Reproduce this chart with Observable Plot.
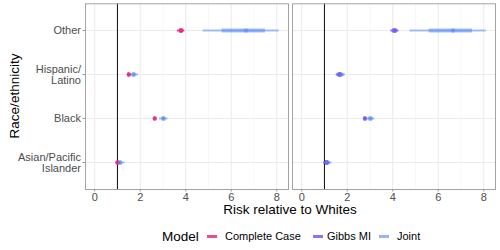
<!DOCTYPE html>
<html>
<head>
<meta charset="utf-8">
<script src="https://cdn.jsdelivr.net/npm/d3@7"></script>
<script src="https://cdn.jsdelivr.net/npm/@observablehq/plot@0.6"></script>
<style>
  html, body { margin: 0; padding: 0; background: #fff; }
  #wrap { width: 500px; font-family: "Liberation Sans", Arial, Helvetica, sans-serif; }
  #legend { position: relative; width: 500px; height: 28px; }
  #legend span { position: absolute; top: 50%; transform: translateY(-50%); white-space: nowrap; color: #000; }
  #legend .key { position: absolute; top: 50%; width: 10px; height: 3px; margin-top: -1.5px; }
</style>
</head>
<body>
<div id="wrap"><div id="chart"></div><div id="legend"></div></div>
<script>
// ---- data ----
const categories = ["Other", "Hispanic/\nLatino", "Black", "Asian/Pacific\nIslander"];
const models = ["Complete Case", "Gibbs MI", "Joint"];
const modelColors = ["#e7298a", "#7a5af8", "#4f86f7"];
const panels = ["Complete Case vs Joint", "Gibbs MI vs Joint"];
const panelModels = [["Complete Case", "Joint"], ["Gibbs MI", "Joint"]];
const xTicks = [0, 2, 4, 6, 8];
const xMinorTicks = [1, 3, 5, 7];
const refLine = [1];

// Complete Case
const ccEst  = [3.80, 1.50, 2.64, 1.01];
const ccLo95 = [3.64, 1.44, 2.60, 0.93];
const ccHi95 = [3.96, 1.58, 2.69, 1.08];
const ccLo50 = [3.72, 1.47, 2.62, 0.97];
const ccHi50 = [3.88, 1.53, 2.66, 1.04];
// Gibbs MI
const gbEst  = [4.09, 1.67, 2.78, 1.10];
const gbLo95 = [3.92, 1.52, 2.72, 0.97];
const gbHi95 = [4.27, 1.86, 2.85, 1.25];
const gbLo50 = [4.00, 1.60, 2.75, 1.04];
const gbHi50 = [4.18, 1.75, 2.81, 1.17];
// Joint
const jtEst  = [6.65, 1.72, 3.03, 1.12];
const jtLo95 = [4.76, 1.56, 2.85, 0.97];
const jtHi95 = [8.11, 1.92, 3.22, 1.33];
const jtLo50 = [5.60, 1.64, 2.95, 1.04];
const jtHi50 = [7.50, 1.80, 3.11, 1.20];

const series = {
  "Complete Case": [ccEst, ccLo95, ccHi95, ccLo50, ccHi50],
  "Gibbs MI": [gbEst, gbLo95, gbHi95, gbLo50, gbHi50],
  "Joint": [jtEst, jtLo95, jtHi95, jtLo50, jtHi50]
};

const rows = [];
panels.forEach((p, pi) => {
  panelModels[pi].forEach(m => {
    const [e, l95, h95, l50, h50] = series[m];
    categories.forEach((c, i) => {
      rows.push({panel: p, model: m, cat: c, est: e[i], lo95: l95[i], hi95: h95[i], lo50: l50[i], hi50: h50[i]});
    });
  });
});

const opacity = d => d.model === "Joint" ? 0.5 : 0.9;

const plot = Plot.plot({
  width: 500,
  height: 222,
  marginLeft: 85,
  marginRight: 4.5,
  marginTop: 3.3,
  marginBottom: 33,
  style: {fontFamily: "'Liberation Sans', Arial, Helvetica, sans-serif", fontSize: "11px", background: "#fff"},
  fx: {domain: panels, axis: null, paddingInner: 0.0193, paddingOuter: 0},
  x: {domain: [-0.405, 8.515]},
  y: {domain: categories, type: "point", padding: 0.6},
  color: {domain: models, range: modelColors},
  marks: [
    Plot.gridX(xMinorTicks, {stroke: "#f3f3f3", strokeOpacity: 1, strokeWidth: 0.6}),
    Plot.gridX(xTicks, {stroke: "#ebebeb", strokeOpacity: 1, strokeWidth: 1}),
    Plot.gridY(categories, {stroke: "#ebebeb", strokeOpacity: 1, strokeWidth: 1}),
    Plot.ruleX(refLine, {stroke: "#1a1a1a", strokeWidth: 1.1}),
    Plot.ruleY(rows, {fx: "panel", y: "cat", x1: "lo95", x2: "hi95", stroke: "model", strokeWidth: 2, strokeOpacity: opacity}),
    Plot.ruleY(rows, {fx: "panel", y: "cat", x1: "lo50", x2: "hi50", stroke: "model", strokeWidth: 4.2, strokeOpacity: opacity}),
    Plot.dot(rows, {fx: "panel", y: "cat", x: "est", fill: "model", r: 2.2, fillOpacity: opacity}),
    Plot.frame({stroke: "#a3a3a3", strokeWidth: 1}),
    Plot.axisX(xTicks, {tickSize: 2.5, tickPadding: 1.5, label: null, stroke: "#999", fill: "#4d4d4d", fontSize: 11}),
    Plot.axisY(categories, {tickSize: 2.5, tickPadding: 2, label: null, stroke: "#999", fill: "#4d4d4d", fontSize: 11})
  ]
});

document.getElementById("chart").appendChild(plot);

const svg = d3.select(plot);
svg.append("text")
  .attr("x", 290).attr("y", 214)
  .attr("text-anchor", "middle")
  .attr("fill", "#000")
  .style("font-size", "13.5px")
  .text("Risk relative to Whites");
svg.append("text")
  .attr("transform", "translate(14,96) rotate(-90)")
  .attr("text-anchor", "middle")
  .attr("dy", "0.35em")
  .attr("fill", "#000")
  .style("font-size", "13.5px")
  .text("Race/ethnicity");

// ---- legend ----
const legend = d3.select("#legend");
legend.append("span").style("left", "162px").style("font-size", "13.5px").text("Model");
const keyX = [207, 313, 379];
const labX = [225, 327, 397];
models.forEach((m, i) => {
  legend.append("div").attr("class", "key")
    .style("left", keyX[i] + "px")
    .style("background", modelColors[i])
    .style("opacity", m === "Joint" ? 0.6 : 0.85);
  legend.append("span").style("left", labX[i] + "px").style("font-size", "11px").text(m);
});
</script>
</body>
</html>
